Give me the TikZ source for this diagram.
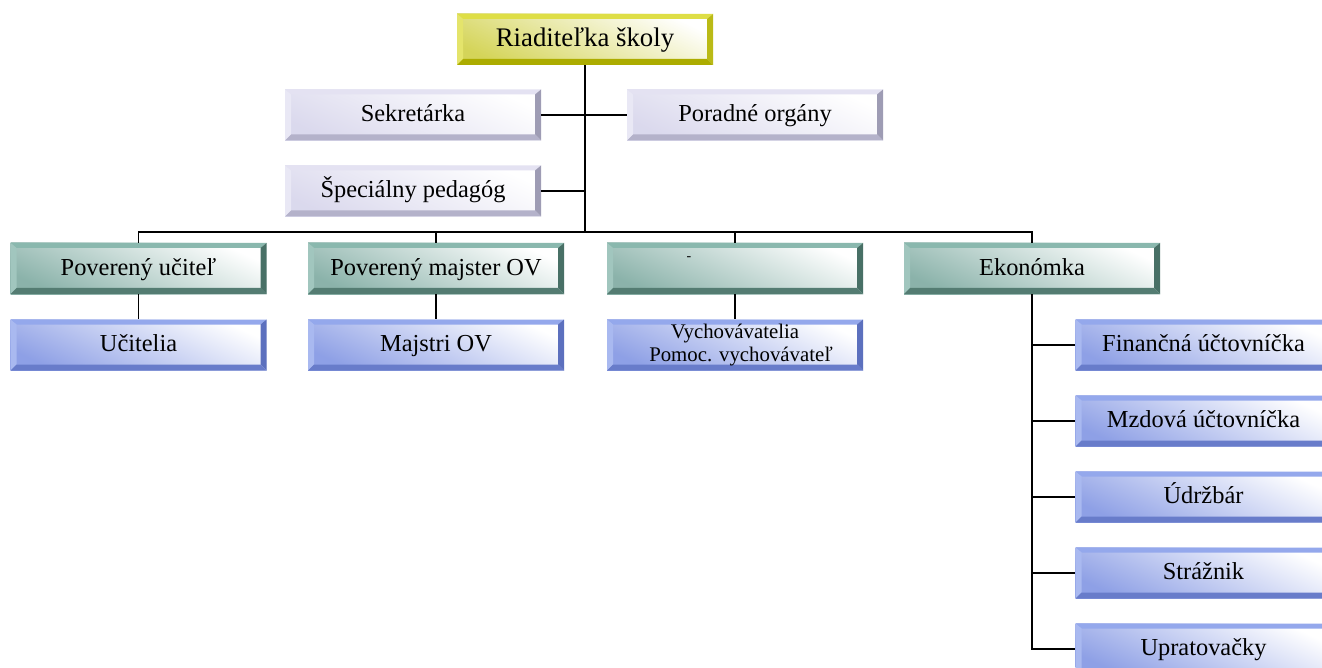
\documentclass[tikz,border=0pt]{standalone}
\usepackage{fontspec}
\setmainfont{Liberation Serif}

\definecolor{yface}{RGB}{205,205,60}
\definecolor{ylight}{RGB}{222,222,70}
\definecolor{yright}{RGB}{186,186,22}
\definecolor{ybottom}{RGB}{172,172,0}
\definecolor{lface}{RGB}{212,210,234}
\definecolor{llight}{RGB}{228,226,242}
\definecolor{lright}{RGB}{158,156,180}
\definecolor{lbottom}{RGB}{180,178,202}
\definecolor{tface}{RGB}{118,165,155}
\definecolor{tlight}{RGB}{138,184,174}
\definecolor{tright}{RGB}{72,112,102}
\definecolor{tbottom}{RGB}{84,124,114}
\definecolor{bface}{RGB}{122,143,225}
\definecolor{blight}{RGB}{148,168,236}
\definecolor{bright}{RGB}{92,112,190}
\definecolor{bbottom}{RGB}{104,124,202}

\newcommand\bb{path picture bounding box}
\tikzset{
  bevel/.style n args={4}{rectangle, draw=none, inner sep=0pt,
    minimum width=128pt, minimum height=25.5pt,
    text height=1.55ex, text depth=0.05ex,
    top color=white, bottom color=#1!85!white, shading angle=-25,
    font=\fontsize{12.2}{14}\selectfont,
    path picture={
      \fill[#2] (\bb.north west) -- (\bb.north east) -- ([shift={(-3pt,-2.5pt)}]\bb.north east) -- ([shift={(3pt,-2.5pt)}]\bb.north west) -- cycle;
      \fill[#2!80!white] (\bb.north west) -- ([shift={(3pt,-2.5pt)}]\bb.north west) -- ([shift={(3pt,3pt)}]\bb.south west) -- (\bb.south west) -- cycle;
      \fill[#3] (\bb.north east) -- (\bb.south east) -- ([shift={(-3pt,3pt)}]\bb.south east) -- ([shift={(-3pt,-2.5pt)}]\bb.north east) -- cycle;
      \fill[#4] (\bb.south west) -- (\bb.south east) -- ([shift={(-3pt,3pt)}]\bb.south east) -- ([shift={(3pt,3pt)}]\bb.south west) -- cycle;
    }},
  headbox/.style={bevel={yface}{ylight}{yright}{ybottom}, font=\fontsize{13.4}{15}\selectfont},
  staffbox/.style={bevel={lface}{llight}{lright}{lbottom}},
  leadbox/.style={bevel={tface}{tlight}{tright}{tbottom}},
  teambox/.style={bevel={bface}{blight}{bright}{bbottom}},
  conn/.style={line width=0.9pt},
  trunk/.style={line width=1.3pt}
}

\begin{document}
\begin{tikzpicture}[x=0.5pt,y=-0.5pt]
	\clip (0,0) rectangle (1322,668);
	\node[headbox] (riad) at (585,39.5) {Riaditeľka školy};
	\node[staffbox] (sekr) at (413,115) {Sekretárka};
	\node[staffbox] (porad) at (755,115) {Poradné orgány};
	\node[staffbox] (spec) at (413,191) {Špeciálny pedagóg};
	\node[leadbox] (pucit) at (138.5,268.5) {Poverený učiteľ};
	\node[leadbox] (pmaj) at (436,268.5) {Poverený majster OV};
	\node[leadbox, label={[xshift=-23pt,yshift=5pt,inner sep=0pt,font=\fontsize{7}{8}\selectfont]center:-}] (pvych) at (735,268.5) {};
	\node[leadbox] (ekon) at (1032,268.5) {Ekonómka};
	\node[teambox] (ucit) at (138.5,345) {Učitelia};
	\node[teambox] (majs) at (436,345) {Majstri OV};
	\node[teambox, align=center, text height=, text depth=, font=\fontsize{10.4}{11.5}\selectfont] (vych) at (735,345) {\raisebox{2pt}{Vychovávatelia}\\[-2pt]\hspace*{6pt}Pomoc. vychovávateľ};
	\node[teambox] (fin) at (1203.5,345) {Finančná účtovníčka};
	\node[teambox] (mzd) at (1203.5,421) {Mzdová účtovníčka};
	\node[teambox] (udrz) at (1203.5,497) {Údržbár};
	\node[teambox] (straz) at (1203.5,573) {Strážnik};
	\node[teambox] (uprat) at (1203.5,649) {Upratovačky};
	\coordinate (bus) at (585,232);
	\draw[trunk] (riad.south) -- (bus);
	\draw[conn] (sekr.east) -- (porad.west);
	\draw[conn] (spec.east) -- (spec.east -| riad.south);
	\draw[conn] (pucit.north) |- (bus) -| (ekon.north);
	\draw[conn] (pmaj.north) -- (pmaj.north |- bus);
	\draw[conn] (pvych.north) -- (pvych.north |- bus);
	\draw[conn] (pucit.south) -- (ucit.north);
	\draw[conn] (pmaj.south) -- (majs.north);
	\draw[conn] (pvych.south) -- (vych.north);
	\draw[conn] (ekon.south) |- (uprat.west);
	\draw[conn] (ekon.south |- fin.west) -- (fin.west);
	\draw[conn] (ekon.south |- mzd.west) -- (mzd.west);
	\draw[conn] (ekon.south |- udrz.west) -- (udrz.west);
	\draw[conn] (ekon.south |- straz.west) -- (straz.west);
\end{tikzpicture}
\end{document}
